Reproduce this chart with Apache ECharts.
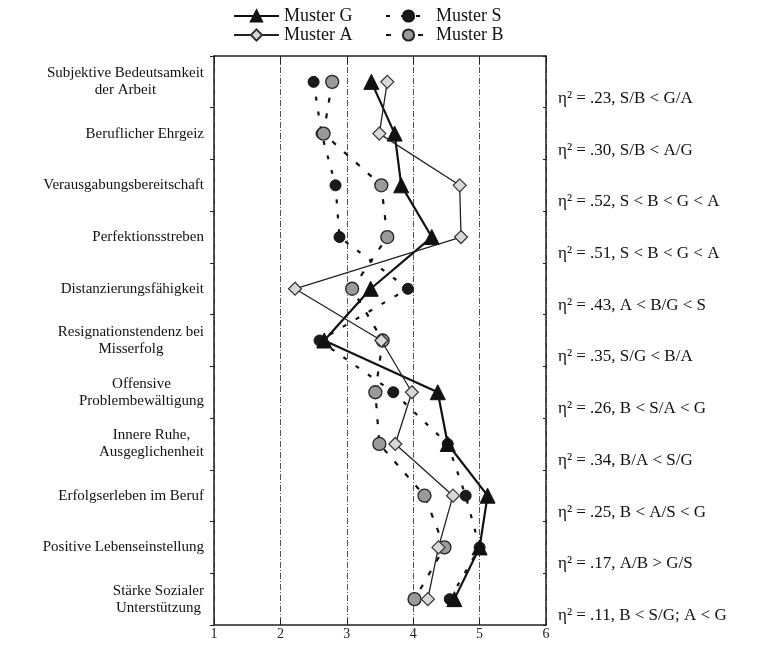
<!DOCTYPE html>
<html>
<head>
<meta charset="utf-8">
<script src="https://cdn.jsdelivr.net/npm/echarts@6/dist/echarts.min.js"></script>
<style>
html,body{margin:0;padding:0;background:#fff;}
#chart{width:760px;height:660px;}
</style>
</head>
<body>
<div id="chart"></div>
<script>
const categories = [
  'Subjektive Bedeutsamkeit\nder Arbeit',
  'Beruflicher Ehrgeiz',
  'Verausgabungsbereitschaft',
  'Perfektionsstreben',
  'Distanzierungsfähigkeit',
  'Resignationstendenz bei\nMisserfolg',
  'Offensive\nProblembewältigung',
  'Innere Ruhe,\nAusgeglichenheit',
  'Erfolgserleben im Beruf',
  'Positive Lebenseinstellung',
  'Stärke Sozialer\nUnterstützung'
];
const annotations = [
  'η² = .23, S/B < G/A',
  'η² = .30, S/B < A/G',
  'η² = .52, S < B < G < A',
  'η² = .51, S < B < G < A',
  'η² = .43, A < B/G < S',
  'η² = .35, S/G < B/A',
  'η² = .26, B < S/A < G',
  'η² = .34, B/A < S/G',
  'η² = .25, B < A/S < G',
  'η² = .17, A/B > G/S',
  'η² = .11, B < S/G; A < G'
];
const xTicks = [1, 2, 3, 4, 5, 6];
const musterG = [3.37, 3.72, 3.82, 4.28, 3.36, 2.66, 4.37, 4.52, 5.12, 5.00, 4.62];
const musterS = [2.50, 2.62, 2.83, 2.89, 3.92, 2.59, 3.70, 4.52, 4.79, 5.00, 4.55];
const musterA = [3.61, 3.49, 4.70, 4.72, 2.22, 3.52, 3.98, 3.73, 4.60, 4.38, 4.22];
const musterB = [2.78, 2.65, 3.52, 3.61, 3.08, 3.54, 3.43, 3.49, 4.17, 4.47, 4.02];

const serif = '"Liberation Serif", "Times New Roman", serif';
const chart = echarts.init(document.getElementById('chart'), null, {renderer: 'canvas'});

function legendAt(name, left, top) {
  return {
    data: [name], left: left, top: top, orient: 'horizontal',
    itemWidth: 45, itemHeight: 14, itemGap: 0, padding: 0,
    textStyle: {fontFamily: serif, fontSize: 18, color: '#111'}
  };
}

const option = {
  backgroundColor: '#fff',
  animation: false,
  legend: [
    legendAt('Muster G', 233, 7),
    legendAt('Muster S', 385, 7),
    legendAt('Muster A', 233, 26),
    legendAt('Muster B', 385, 26)
  ],
  grid: {left: 214, right: 214, top: 56, bottom: 35, containLabel: false},
  xAxis: [{
    type: 'value', position: 'bottom', min: xTicks[0], max: xTicks[xTicks.length - 1], interval: 1,
    axisLine: {show: true, lineStyle: {color: '#222', width: 1.5}},
    axisTick: {show: true, inside: true, length: 6, lineStyle: {color: '#222'}},
    axisLabel: {fontFamily: serif, fontSize: 14, color: '#222', margin: 2},
    splitLine: {show: true, lineStyle: {color: '#555', width: 1, type: [6, 2, 1, 2]}}
  }, {
    type: 'value', position: 'top', min: xTicks[0], max: xTicks[xTicks.length - 1], interval: 1,
    axisLine: {show: true, lineStyle: {color: '#222', width: 1.5}},
    axisTick: {show: true, inside: true, length: 8, lineStyle: {color: '#222'}},
    axisLabel: {show: false},
    splitLine: {show: false}
  }],
  yAxis: [{
    type: 'category', data: categories, inverse: true, position: 'left', boundaryGap: true,
    axisLine: {show: true, lineStyle: {color: '#222', width: 1.5}},
    axisTick: {show: true, length: 4, lineStyle: {color: '#222'}},
    axisLabel: {
      fontFamily: serif, fontSize: 15, color: '#111', margin: 10, align: 'right', lineHeight: 17,
      formatter: function (v) {
        return v.split('\n').map(function (l) { return '{c|' + l + '}'; }).join('\n');
      },
      rich: {c: {align: 'center', fontFamily: serif, fontSize: 15, color: '#111', lineHeight: 17}}
    },
    splitLine: {show: false}
  }, {
    type: 'category', data: annotations, inverse: true, position: 'right', boundaryGap: true,
    axisLine: {show: true, lineStyle: {color: '#222', width: 1.5}},
    axisTick: {show: true, inside: true, length: 3, lineStyle: {color: '#222'}},
    axisLabel: {
      fontFamily: serif, fontSize: 17, color: '#111', margin: 12, align: 'left',
      verticalAlign: 'top', lineHeight: 33
    },
    splitLine: {show: false}
  }],
  series: [{
    name: 'Muster G', type: 'line', data: musterG, yAxisIndex: 0, xAxisIndex: 0,
    symbol: 'triangle', symbolSize: 15, z: 4,
    lineStyle: {color: '#111', width: 2.2, type: 'solid'},
    itemStyle: {color: '#111', borderColor: '#111', borderWidth: 1}
  }, {
    name: 'Muster S', type: 'line', data: musterS, yAxisIndex: 0, xAxisIndex: 0,
    symbol: 'circle', symbolSize: 11, z: 3,
    lineStyle: {color: '#111', width: 2.2, type: [4, 11]},
    itemStyle: {color: '#1a1a1a', borderColor: '#111', borderWidth: 1}
  }, {
    name: 'Muster A', type: 'line', data: musterA, yAxisIndex: 0, xAxisIndex: 0,
    symbol: 'diamond', symbolSize: 13, z: 5,
    lineStyle: {color: '#222', width: 1.3, type: 'solid'},
    itemStyle: {color: '#d8d8d8', borderColor: '#333', borderWidth: 1.2}
  }, {
    name: 'Muster B', type: 'line', data: musterB, yAxisIndex: 0, xAxisIndex: 0,
    symbol: 'circle', symbolSize: 13, z: 3,
    lineStyle: {color: '#111', width: 2.2, type: [5, 11]},
    itemStyle: {color: '#9a9a9a', borderColor: '#222', borderWidth: 1.3}
  }]
};
chart.setOption(option);
</script>
</body>
</html>
